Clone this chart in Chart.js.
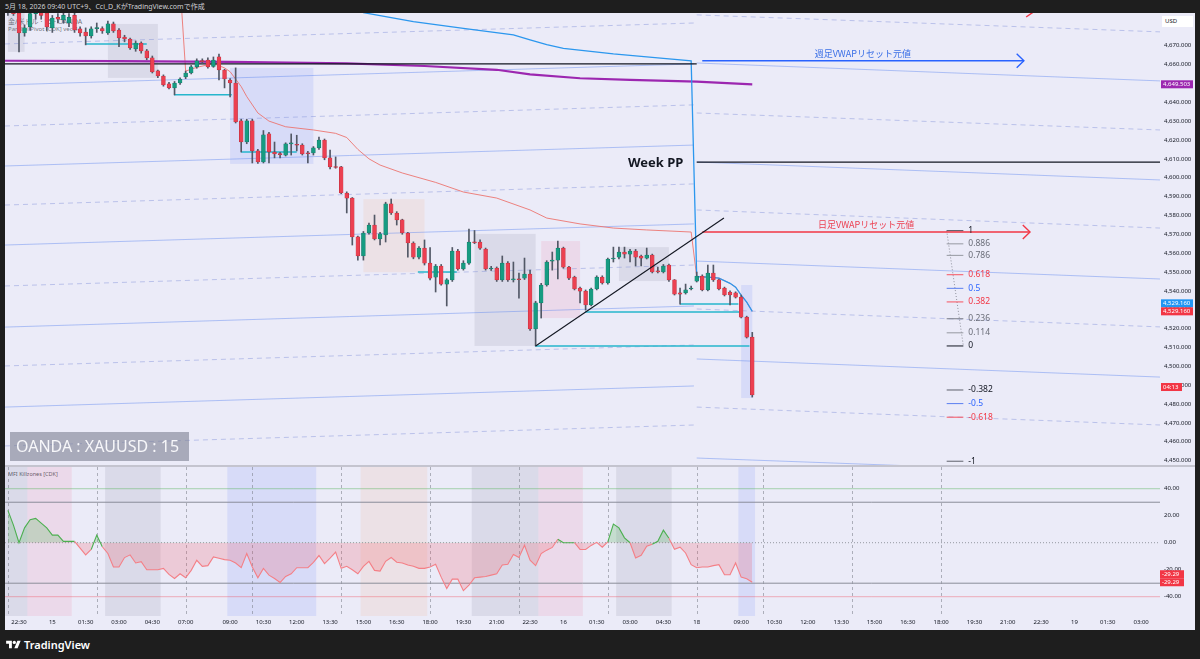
<!DOCTYPE html>
<html lang="ja">
<head>
<meta charset="utf-8">
<title>OANDA:XAUUSD 15</title>
<script src="https://cdn.jsdelivr.net/npm/chart.js@4.4.1/dist/chart.umd.min.js"></script>
<style>
  html, body { margin: 0; padding: 0; }
  body { width: 1200px; height: 659px; background: #1e1e1e; position: relative; overflow: hidden;
         font-family: "Noto Sans", "Noto Sans CJK JP", sans-serif; }
  #topbar { position: absolute; left: 5px; top: 0; height: 13px; line-height: 13px; font-size: 7px; color: #cfd0d4; white-space: nowrap; }
  .pane { position: absolute; left: 5px; width: 1190px; background: #ebebf8; }
  #mainPane { top: 13px; height: 452px; }
  #mfiPane { top: 467px; height: 163px; }
  #sep { position: absolute; left: 5px; top: 465px; width: 1190px; height: 2px; background: #c4c4cf; }
  .pane canvas { position: absolute; left: 0; top: 0; }
  .legend { position: absolute; left: 3px; color: rgba(19,23,34,0.6); white-space: nowrap; }
  #usd { position: absolute; left: 1157px; top: 3px; width: 31px; height: 11px; background: #fff; font-size: 6px;
         line-height: 11px; color: #131722; padding-left: 3px; box-sizing: border-box; }
  #symbol { position: absolute; left: 5px; top: 419px; width: 179px; height: 29px; background: rgba(128,130,148,0.62);
            color: #f7f7fa; font-size: 16px; line-height: 29px; padding-left: 6px; box-sizing: border-box; white-space: nowrap; }
  #footer { position: absolute; left: 6px; top: 637px; height: 15px; color: #fff; font-size: 11px; font-weight: 600; line-height: 15px; }
  #footer svg { position: absolute; left: 0; top: 3px; }
  #footer span { position: absolute; left: 18px; top: 0; }
</style>
</head>
<body>
<div id="topbar">5月 18, 2026 09:40 UTC+9、Cci_D_KがTradingView.comで作成</div>

<div class="pane" id="mainPane">
  <div class="legend" style="top:3px;font-size:7px;">金/米ドル · 15 · OANDA</div>
  <div class="legend" style="top:12px;font-size:6px;">Parallel Pivot [CDK] vec.4</div>
  <canvas id="mainChart" width="1190" height="452"></canvas>
  <div id="usd">USD</div>
  <div id="symbol">OANDA : XAUUSD : 15</div>
</div>
<div id="sep"></div>
<div class="pane" id="mfiPane">
  <div class="legend" style="top:3px;font-size:5.5px;color:rgba(19,23,34,0.75);">MFI Killzones [CDK]</div>
  <canvas id="mfiChart" width="1190" height="163"></canvas>
</div>
<div id="footer">
  <svg width="15" height="9" viewBox="0 0 36 22"><path fill="#fff" d="M14 20H7V9H0V2h14v18zM28 20h-8l7.5-18h8L28 20z"/><circle cx="20" cy="6" r="4" fill="#fff"/></svg>
  <span>TradingView</span>
</div>

<script>
// 15分足, bar 0 = 5/14 22:00, bar 134 = 5/18 09:30
var opens = [4689, 4691, 4687.3, 4676.7, 4680, 4687, 4689, 4687.3, 4679.4, 4685,
  4683.6, 4682, 4686, 4678.9, 4677.2, 4675.1, 4679, 4679, 4676.7, 4681.5,
  4678.3, 4674.6, 4673.5, 4668.3, 4671.4, 4667.2, 4663.5, 4656.6, 4653.9, 4649.7,
  4647.6, 4650.2, 4653.4, 4655.5, 4658.7, 4661.9, 4662.4, 4659, 4664, 4657.1,
  4651.8, 4650.2, 4630.1, 4618.9, 4630.1, 4614.2, 4608.3, 4623.2, 4613.6, 4612.6,
  4612, 4617.9, 4617.6, 4617.3, 4613.1, 4613.1, 4615.8, 4620, 4610.5, 4605.8,
  4605.7, 4591.9, 4589.2, 4568.6, 4558.5, 4570.7, 4574.9, 4567.5, 4569.6, 4586.1,
  4581.3, 4577.6, 4570.7, 4565.4, 4557.9, 4562.7, 4554.7, 4547.3, 4553.2, 4543.6,
  4545.8, 4561.1, 4551.6, 4554.7, 4565.9, 4565.9, 4562.2, 4551.6, 4552.1, 4545.8,
  4554.7, 4545.8, 4546.3, 4546.8, 4548.9, 4519.8, 4533.6, 4543.1, 4555.8, 4556.3,
  4562.7, 4552.6, 4547.3, 4541.5, 4539.9, 4532.5, 4541, 4547.3, 4544.2, 4556.9,
  4557.9, 4560.6, 4559.5, 4561.1, 4558.5, 4557.4, 4559, 4550.5, 4550, 4553.7,
  4545.8, 4538.9, 4538.9, 4541, 4545.2, 4547.9, 4540.5, 4549.5, 4545.8, 4541.5,
  4539.4, 4538.9, 4536.7, 4526.1, 4515.5];
var highs = [4694, 4695, 4689, 4681, 4690, 4692, 4692, 4689, 4686, 4687,
  4688, 4687, 4688, 4680, 4679.4, 4680, 4682, 4680, 4683, 4682.5,
  4679, 4675.5, 4674, 4672.5, 4672, 4668, 4664.5, 4657, 4654.5, 4650.5,
  4651, 4653, 4656.5, 4659.5, 4663, 4663, 4663.5, 4664, 4665.5, 4657.5,
  4652.5, 4658.2, 4631, 4631, 4631, 4615, 4625, 4624, 4618.9, 4613.5,
  4618.5, 4623.2, 4622.5, 4618, 4614, 4616.5, 4621.5, 4620.5, 4614.7, 4611,
  4606, 4592.5, 4589.5, 4569, 4571.5, 4576, 4580.2, 4571, 4587, 4588.7,
  4582, 4578, 4571, 4566, 4563.5, 4567, 4563, 4554, 4554, 4546.5,
  4563, 4562, 4556, 4572.8, 4572, 4567, 4562.7, 4553, 4552.7, 4558.5,
  4555.5, 4555.3, 4549.5, 4557.4, 4551, 4534.5, 4544, 4556, 4560.6, 4566.4,
  4563.2, 4553, 4547.8, 4542, 4540.5, 4541.5, 4548, 4548, 4557.4, 4563.2,
  4563.2, 4563.2, 4562, 4562, 4559, 4562.7, 4559.5, 4552.6, 4554, 4554.2,
  4546, 4541.5, 4543.6, 4542.6, 4550, 4548.5, 4553.7, 4553.7, 4546.3, 4542,
  4540, 4539.5, 4537.8, 4526.6, 4518];
var lows = [4686, 4686, 4666.7, 4675, 4678, 4684, 4684, 4678, 4677, 4682,
  4682, 4680, 4677, 4675, 4670.4, 4674, 4677, 4676.5, 4676, 4677,
  4669.5, 4672, 4668, 4667, 4666, 4662.5, 4655.5, 4653, 4648.5, 4647,
  4643.9, 4649.5, 4652.5, 4655, 4658, 4660.5, 4658, 4658.5, 4651.8, 4647.6,
  4642.8, 4629, 4613.6, 4618, 4607.8, 4607.5, 4607.8, 4607.8, 4610.5, 4610.5,
  4611.5, 4612, 4614.2, 4612, 4607.8, 4612, 4615, 4609.5, 4604.7, 4605,
  4591.5, 4581.3, 4564.3, 4556.3, 4556.3, 4570, 4567, 4564.3, 4565.9, 4580.5,
  4574.9, 4570, 4557.9, 4557, 4557, 4553.7, 4545.8, 4539.4, 4543, 4532,
  4545, 4551, 4551, 4554, 4565, 4562, 4551, 4550.8, 4545, 4545,
  4545, 4544.7, 4536.2, 4546, 4519, 4510.8, 4525.6, 4542.5, 4551, 4546.3,
  4552, 4546, 4540.5, 4533.6, 4529.8, 4532, 4540.5, 4543.6, 4543.6, 4555.3,
  4557, 4557.4, 4555.3, 4553.2, 4553.2, 4556.9, 4549.5, 4549.5, 4549.5, 4545,
  4537.8, 4533, 4538.3, 4540.5, 4544.7, 4540, 4540, 4545, 4540.5, 4537.3,
  4532.5, 4536.2, 4525.6, 4515, 4483.7];
var closes = [4691.5, 4687, 4676.7, 4679.4, 4687, 4689, 4686, 4679.9, 4684.6, 4684,
  4686, 4685, 4678.3, 4676.7, 4675.1, 4678.9, 4679.4, 4677.8, 4681.5, 4677.8,
  4674.1, 4673.5, 4668.8, 4671.4, 4667.2, 4663.5, 4656.1, 4653.9, 4649.2, 4647.6,
  4650.2, 4652.3, 4655.5, 4658.7, 4661.9, 4661.5, 4658.7, 4662.4, 4657.1, 4652.3,
  4650.2, 4629.5, 4618.9, 4630.1, 4614.2, 4608.3, 4622.7, 4613.6, 4612.6, 4612.2,
  4617.9, 4618.3, 4617.2, 4612.6, 4612.7, 4615.8, 4620, 4610.5, 4605.7, 4605.4,
  4591.9, 4589.2, 4568.6, 4558.5, 4570.7, 4574.9, 4567.5, 4570.2, 4586.1, 4581.3,
  4577.6, 4570.7, 4565.4, 4557.9, 4562.7, 4554.7, 4546.8, 4553.2, 4543.6, 4545.8,
  4561.1, 4551.6, 4554.7, 4565.9, 4565.5, 4562.7, 4551.6, 4552, 4545.8, 4554.7,
  4545.8, 4546.2, 4545.9, 4548.9, 4519.8, 4533.6, 4543.1, 4555.3, 4556.3, 4562.7,
  4552.6, 4546.8, 4541, 4539.9, 4532.5, 4541, 4547.3, 4544.2, 4556.9, 4557.4,
  4560.6, 4559.5, 4561.1, 4557.9, 4557.4, 4559, 4550, 4550.1, 4553.2, 4545.8,
  4538.3, 4538.3, 4540.5, 4541.3, 4547.9, 4540.5, 4549.5, 4545.8, 4541, 4537.8,
  4537.8, 4536.7, 4526.1, 4515.5, 4484.8];

var mfi = [24, 13, 0, 11, 17, 18, 14.5, 11, 5.6, 5.6,
  1, 1, 1, -4, -9, -5, 5.6, -3, -8, -18,
  -18, -11, -9, -15, -14, -20, -20, -20, -19, -23.5,
  -26.5, -23, -26, -20.5, -13, -17.5, -17, -10.5, -11.5, -12.5,
  -13, -15, -18.5, -8, -18, -26, -19, -24, -26.5, -29.5,
  -25, -23, -18.5, -18.5, -18.5, -14.5, -9.5, -15.5, -11.5, -7,
  -19, -17.5, -20, -23, -17.5, -13.8, -20.5, -21, -13.8, -11,
  -14.5, -15, -16.5, -17.5, -19, -19, -18, -16, -25.5, -34,
  -27, -27, -35.5, -31.5, -26, -25.5, -25, -24, -23, -16.5,
  -16, -8.7, -11, -1.9, -13, -17, -8, -5.5, -3.5, 2.6,
  0, 0, 0, -5, -5, -2, 0.3, -3.3, 0.6, 13.8,
  11, 3.6, 0, -11.3, -9.3, -2.6, -1.1, 1.1, 9.3, 3.3,
  -4.9, -3.3, -7.6, -16.3, -18.5, -18, -18, -17, -16.3, -23.7,
  -23.7, -15, -25.5, -26.7, -29.29];
var mfiLevels = [40, 30, 0, -30, -40];
var mfiTicks = [40, 20, 0, -20, -40];

// time axis (bar index -> label)
var tickIdx = [2, 8, 14, 20, 26, 32, 40, 46, 52, 58, 64, 70, 76, 82, 88, 94, 100, 106, 112, 118,
  124, 132, 138, 144, 150, 156, 162, 168, 174, 180, 186, 192, 198, 204];
var tickLabels = ['22:30', '15', '01:30', '03:00', '04:30', '07:00', '09:00', '10:30', '12:00', '13:30',
  '15:00', '16:30', '18:00', '19:30', '21:00', '22:30', '16', '01:30', '03:00', '04:30',
  '18', '09:00', '10:30', '12:00', '13:30', '15:00', '16:30', '18:00', '19:30', '21:00',
  '22:30', '19', '01:30', '03:00'];
var dividerIdx = [0, 16, 32, 44, 60, 76, 92, 108, 124, 136, 152, 168];
var priceTicks = [4450, 4460, 4470, 4480, 4490, 4500, 4510, 4520, 4530, 4540, 4550, 4560,
  4570, 4580, 4590, 4600, 4610, 4620, 4630, 4640, 4650, 4660, 4670];

// killzone sessions (first bar, last bar) and their box range on the price pane
var sessionFirst = [0, 4, 18, 40, 64, 84, 96, 110, 132];
var sessionLast = [3, 11, 27, 55, 75, 95, 103, 119, 134];
var sessionKind = ['gray', 'pink', 'gray', 'blue', 'orange', 'gray', 'pink', 'gray', 'blue'];
var boxTop = [4695, null, 4681.5, 4658.2, 4588.6, 4570.2, 4566.4, 4563.2, 4543.1];
var boxBottom = [4666.7, null, 4652.9, 4607.3, 4549.9, 4510.8, 4525.6, 4545.2, 4483.2];

// indicators
var maX = [-1, 20, 40, 61, 75, 88, 94, 103, 112, 124, 134];
var maY = [4662.0, 4661.8, 4661.4, 4660.6, 4659.2, 4657.2, 4654.8, 4652.7, 4651.8, 4650.9, 4649.503];
var dayX = [30, 31, 32, 34, 37, 39, 40, 42, 43, 45, 47, 50, 55, 59, 61, 63, 65, 67, 71, 77, 82, 88,
  94, 97, 103, 109, 115, 123, 124, 126, 128, 130, 131, 132, 133, 134];
var dayY = [4705, 4702, 4656.5, 4658.5, 4660.5, 4658.2, 4656.2, 4648.3, 4643, 4634.3, 4630, 4627,
  4625.3, 4623.5, 4621.3, 4615, 4610, 4606.7, 4602.5, 4597.5, 4592.4, 4589.2, 4582.9, 4578.6,
  4575.5, 4573.3, 4572.3, 4571.2, 4547.5, 4547.3, 4546.8, 4544, 4542, 4537.8, 4534, 4529.16];
var weekX = [55, 60, 64, 73, 82, 91, 94, 97, 100, 109, 118, 123, 124, 126, 128, 130, 131, 132, 133, 134];
var weekY = [4698, 4692, 4687.5, 4682.7, 4679.2, 4675.7, 4673, 4670.5, 4668.6, 4665.6, 4663.3, 4662,
  4547.5, 4547.3, 4546.8, 4544, 4542, 4537.8, 4534, 4529.16];
var weekPP = [4660.3, 4608.3];

// parallel pivot lines: [value at left end, value at right end]
var pivotDashL = [[4670.9, 4682.0], [4627.4, 4638.6], [4585.5, 4596.7], [4542.6, 4553.7], [4500.2, 4511.3], [4457.8, 4468.9]];
var pivotSolidL = [[4649.2, 4660.3], [4606.2, 4617.3], [4564.3, 4575.5], [4520.8, 4532.0], [4478.4, 4489.6]];
var pivotDashR = [[4686.3, 4677.3], [4634.3, 4625.3], [4582.9, 4573.3], [4530.4, 4520.9], [4478.4, 4468.9]];
var pivotSolidR = [[4660.8, 4651.3], [4608.3, 4598.8], [4555.8, 4546.3], [4503.9, 4494.3], [4451.4, 4442.4]];

// session range lines
var rangeStart = [13.9, 29.9, 42, 73.8, 94.9, 103.9, 121];
var rangeEnd = [25, 40.3, 52, 80.8, 133.5, 131.8, 131.5];
var rangePrice = [4670.9, 4643.9, 4613.6, 4550.0, 4510.8, 4528.8, 4533.0];

// fibonacci retracement
var fibLevels = [1, 0.886, 0.786, 0.618, 0.5, 0.382, 0.236, 0.114, 0, -0.382, -0.5, -0.618, -1];
var fibZero = 4510.8;
var fibOne = 4571.9;

var xMin = -0.52, xMax = 207.4;
var yMin = 4447.7, yMax = 4687.3;
var mfiMin = -54.3, mfiMax = 56.1;

var upColor = '#169c82', downColor = '#ec4051', upEdge = '#0d6f5c', downEdge = '#b52a39', wickColor = '#525866';
var sessionColors = { gray: 'rgba(120,122,145,0.14)', pink: 'rgba(240,110,150,0.14)', blue: 'rgba(85,115,250,0.13)', orange: 'rgba(250,170,120,0.14)' };
var fibLineColors = ['#434651', '#9598a1', '#9598a1', '#f7525f', '#5b7ff0', '#f7525f', '#787b86', '#9598a1', '#131722', '#5d606b', '#5b7ff0', '#f7525f', '#5d606b'];
var fibTextColors = ['#131722', '#6a6d78', '#6a6d78', '#f23645', '#2962ff', '#f23645', '#6a6d78', '#6a6d78', '#131722', '#131722', '#2962ff', '#f23645', '#131722'];

Chart.defaults.font.family = '"Noto Sans", "Noto Sans CJK JP", sans-serif';
Chart.defaults.color = '#131722';

function pts(xs, ys) {
  var out = [];
  for (var i = 0; i < xs.length; i++) out.push({ x: xs[i], y: ys[i] });
  return out;
}
function line(points, color, width, dash, order) {
  return { type: 'line', data: points, borderColor: color, borderWidth: width, borderDash: dash || [],
           pointRadius: 0, fill: false, tension: 0, order: order };
}
function fmtPrice(v) {
  return v.toLocaleString('en-US', { minimumFractionDigits: 3, maximumFractionDigits: 3 });
}
function drawTag(c, x, y, w, text, bg) {
  c.fillStyle = bg;
  c.fillRect(x, y - 4, w, 8);
  c.fillStyle = '#fff';
  c.font = '6px "Noto Sans", sans-serif';
  c.textAlign = 'left';
  c.textBaseline = 'middle';
  c.fillText(text, x + 2, y + 0.3);
}

// candles
var wicks = [], bodies = [], bodyFill = [], bodyEdge = [];
for (var i = 0; i < opens.length; i++) {
  wicks.push({ x: i, y: [lows[i], highs[i]] });
  bodies.push({ x: i, y: [opens[i], closes[i]] });
  var up = closes[i] >= opens[i];
  bodyFill.push(up ? upColor : downColor);
  bodyEdge.push(up ? upEdge : downEdge);
}

var mainSets = [];
var leftEnd = 123.5, rightStart = 124;
for (i = 0; i < pivotDashL.length; i++)
  mainSets.push(line([{ x: xMin, y: pivotDashL[i][0] }, { x: leftEnd, y: pivotDashL[i][1] }], 'rgba(118,135,215,0.42)', 1, [5, 4], 30));
for (i = 0; i < pivotSolidL.length; i++)
  mainSets.push(line([{ x: xMin, y: pivotSolidL[i][0] }, { x: leftEnd, y: pivotSolidL[i][1] }], 'rgba(95,135,240,0.45)', 1, [], 30));
for (i = 0; i < pivotDashR.length; i++)
  mainSets.push(line([{ x: rightStart, y: pivotDashR[i][0] }, { x: xMax, y: pivotDashR[i][1] }], 'rgba(118,135,215,0.42)', 1, [5, 4], 30));
for (i = 0; i < pivotSolidR.length; i++)
  mainSets.push(line([{ x: rightStart, y: pivotSolidR[i][0] }, { x: xMax, y: pivotSolidR[i][1] }], 'rgba(95,135,240,0.45)', 1, [], 30));
for (i = 0; i < rangeStart.length; i++)
  mainSets.push(line([{ x: rangeStart[i], y: rangePrice[i] }, { x: rangeEnd[i], y: rangePrice[i] }], '#26b6cc', 1.5, [], 25));

mainSets.push(line(pts(maX, maY), '#9c27b0', 2.2, [], 20));
mainSets.push(line(pts(dayX, dayY), 'rgba(236,110,105,0.85)', 1, [], 21));
mainSets.push(line(pts(weekX, weekY), '#2b97ee', 1.3, [], 19));
mainSets.push(line([{ x: xMin, y: weekPP[0] }, { x: 124, y: weekPP[0] }], '#131722', 1.2, [], 18));
mainSets.push(line([{ x: 124, y: weekPP[1] }, { x: xMax, y: weekPP[1] }], '#131722', 1.2, [], 18));

mainSets.push({ type: 'bar', data: wicks, backgroundColor: wickColor, barThickness: 1, grouped: false, order: 11 });
mainSets.push({ type: 'bar', data: bodies, backgroundColor: bodyFill, borderColor: bodyEdge, borderWidth: 0.5,
                borderSkipped: false, barThickness: 3.8, minBarLength: 1, grouped: false, order: 10 });

// drawings
mainSets.push(line([{ x: 95, y: lows[95] }, { x: 128.9, y: 4578.6 }], '#131722', 1.1, [], 2));
var weekFrom = weekY[11], dayFrom = dayY[27];
mainSets.push(line([{ x: 125, y: weekFrom }, { x: 182.9, y: weekFrom }], '#2962ff', 1.4, [], 2));
mainSets.push(line([{ x: 181.6, y: weekFrom + 3.7 }, { x: 182.9, y: weekFrom }, { x: 181.6, y: weekFrom - 3.7 }], '#2962ff', 1.4, [], 2));
mainSets.push(line([{ x: 125, y: dayFrom }, { x: 184, y: dayFrom }], '#f23645', 1.4, [], 2));
mainSets.push(line([{ x: 182.7, y: dayFrom + 3.7 }, { x: 184, y: dayFrom }, { x: 182.7, y: dayFrom - 3.7 }], '#f23645', 1.4, [], 2));
mainSets.push(line([{ x: 183.3, y: 4685.2 }, { x: 184.7, y: 4688 }], '#f23645', 1.4, [], 2));
for (i = 0; i < fibLevels.length; i++) {
  var fp = fibZero + fibLevels[i] * (fibOne - fibZero);
  mainSets.push(line([{ x: 169, y: fp }, { x: 172, y: fp }], fibLineColors[i], 1, [], 3));
}
mainSets.push(line([{ x: 169, y: fibOne }, { x: 172, y: fibZero }], 'rgba(120,123,134,0.8)', 1, [1, 2], 3));

var mainExtras = {
  id: 'mainExtras',
  beforeDatasetsDraw: function(chart) {
    var c = chart.ctx, a = chart.chartArea, xs = chart.scales.x, ys = chart.scales.y;
    c.save();
    c.beginPath();
    c.rect(a.left, a.top, a.right - a.left, a.bottom - a.top);
    c.clip();
    for (var k = 0; k < sessionFirst.length; k++) {
      if (boxTop[k] === null) continue;
      var x0 = xs.getPixelForValue(sessionFirst[k]), x1 = xs.getPixelForValue(sessionLast[k]);
      var y0 = ys.getPixelForValue(boxTop[k]), y1 = ys.getPixelForValue(boxBottom[k]);
      c.fillStyle = sessionColors[sessionKind[k]];
      c.fillRect(x0, y0, x1 - x0, y1 - y0);
    }
    c.restore();
  },
  afterDatasetsDraw: function(chart) {
    var c = chart.ctx, xs = chart.scales.x, ys = chart.scales.y;
    c.save();
    c.textBaseline = 'middle';
    c.font = 'bold 13px "Noto Sans", sans-serif';
    c.fillStyle = '#131722';
    c.textAlign = 'right';
    c.fillText('Week PP', xs.getPixelForValue(121.6), ys.getPixelForValue(weekPP[1]) + 1);

    c.font = '9px "Noto Sans CJK JP", "Noto Sans", sans-serif';
    c.textAlign = 'center';
    c.fillStyle = '#3a6fe6';
    c.fillText('週足VWAPリセット元値', xs.getPixelForValue(153.9), ys.getPixelForValue(weekFrom + 3.8));
    c.fillStyle = '#ec3f50';
    c.fillText('日足VWAPリセット元値', xs.getPixelForValue(154.5), ys.getPixelForValue(dayFrom + 4.2));

    c.font = '8.5px "Noto Sans", sans-serif';
    c.textAlign = 'left';
    for (var k = 0; k < fibLevels.length; k++) {
      var fp = fibZero + fibLevels[k] * (fibOne - fibZero);
      c.fillStyle = fibTextColors[k];
      c.fillText(String(fibLevels[k]), xs.getPixelForValue(172.9), ys.getPixelForValue(fp));
    }
    c.restore();
  },
  afterDraw: function(chart) {
    var c = chart.ctx, a = chart.chartArea, ys = chart.scales.y;
    var tx = a.right + 1;
    c.save();
    var last = closes.length - 1;
    drawTag(c, tx, ys.getPixelForValue(maY[maY.length - 1]), 32, fmtPrice(maY[maY.length - 1]), '#9c27b0');
    drawTag(c, tx, ys.getPixelForValue(weekY[weekY.length - 1]) - 8, 32, fmtPrice(weekY[weekY.length - 1]), '#2196f3');
    drawTag(c, tx, ys.getPixelForValue(dayY[dayY.length - 1]), 32, fmtPrice(dayY[dayY.length - 1]), '#f23645');
    drawTag(c, tx, ys.getPixelForValue(closes[last]) - 8, 21, '04:13', '#f23645');
    c.restore();
  }
};

new Chart(document.getElementById('mainChart'), {
  type: 'bar',
  data: { datasets: mainSets },
  options: {
    responsive: false,
    animation: false,
    events: [],
    layout: { padding: 0 },
    plugins: { legend: { display: false }, tooltip: { enabled: false } },
    scales: {
      x: { type: 'linear', min: xMin, max: xMax, display: false, offset: false },
      y: {
        type: 'linear', position: 'right', min: yMin, max: yMax, beginAtZero: false,
        grid: { display: false, drawTicks: false }, border: { display: false },
        ticks: { font: { size: 6 }, color: '#131722', padding: 4, callback: function(v) { return fmtPrice(v); } },
        afterBuildTicks: function(s) { s.ticks = priceTicks.map(function(v) { return { value: v }; }); },
        afterFit: function(s) { s.width = 35; s.paddingTop = 0; s.paddingBottom = 0; }
      }
    }
  },
  plugins: [mainExtras]
});

// MFI pane
var mfiSets = [];
var mfiPts = [];
for (i = 0; i < mfi.length; i++) mfiPts.push({ x: i, y: mfi[i] });
mfiSets.push({
  type: 'line', data: mfiPts, borderWidth: 1.1, pointRadius: 0, tension: 0, order: 1,
  borderColor: '#f47f86',
  segment: { borderColor: function(ctx) { return (ctx.p0.parsed.y + ctx.p1.parsed.y) / 2 >= 0 ? '#4caf50' : '#f47f86'; } },
  fill: { target: { value: 0 }, above: 'rgba(76,175,80,0.24)', below: 'rgba(242,54,69,0.18)' }
});
var levelColors = ['rgba(76,175,80,0.45)', '#8a8d99', '#9598a1', '#8a8d99', 'rgba(242,54,69,0.35)'];
for (i = 0; i < mfiLevels.length; i++)
  mfiSets.push(line([{ x: xMin, y: mfiLevels[i] }, { x: xMax, y: mfiLevels[i] }], levelColors[i], 1, mfiLevels[i] === 0 ? [1, 2] : [], 5));

var mfiExtras = {
  id: 'mfiExtras',
  beforeDatasetsDraw: function(chart) {
    var c = chart.ctx, a = chart.chartArea, xs = chart.scales.x;
    c.save();
    for (var k = 0; k < sessionFirst.length; k++) {
      var x0 = xs.getPixelForValue(sessionFirst[k] - 0.5), x1 = xs.getPixelForValue(sessionLast[k] + 0.5);
      c.fillStyle = sessionColors[sessionKind[k]];
      c.fillRect(x0, a.top, x1 - x0, a.bottom - a.top);
    }
    c.strokeStyle = 'rgba(120,123,134,0.55)';
    c.lineWidth = 1;
    c.setLineDash([3, 3]);
    for (k = 0; k < dividerIdx.length; k++) {
      var x = Math.round(xs.getPixelForValue(dividerIdx[k])) + 0.5;
      c.beginPath();
      c.moveTo(x, a.top);
      c.lineTo(x, a.bottom);
      c.stroke();
    }
    c.restore();
  },
  afterDraw: function(chart) {
    var c = chart.ctx, a = chart.chartArea, ys = chart.scales.y;
    var v = mfi[mfi.length - 1];
    c.save();
    drawTag(c, a.right, ys.getPixelForValue(v) - 8, 24, v.toFixed(2), '#f23645');
    drawTag(c, a.right, ys.getPixelForValue(v), 24, v.toFixed(2), '#f23645');
    c.restore();
  }
};

new Chart(document.getElementById('mfiChart'), {
  type: 'line',
  data: { datasets: mfiSets },
  options: {
    responsive: false,
    animation: false,
    events: [],
    layout: { padding: 0 },
    plugins: { legend: { display: false }, tooltip: { enabled: false } },
    scales: {
      x: {
        type: 'linear', min: xMin, max: xMax, offset: false,
        grid: { display: false, drawTicks: false }, border: { display: false },
        ticks: {
          font: { size: 6 }, color: '#131722', padding: 3, maxRotation: 0, autoSkip: false,
          callback: function(v) { var k = tickIdx.indexOf(v); return k >= 0 ? tickLabels[k] : ''; }
        },
        afterBuildTicks: function(s) { s.ticks = tickIdx.map(function(v) { return { value: v }; }); },
        afterFit: function(s) { s.height = 14; s.paddingLeft = 0; s.paddingRight = 0; }
      },
      y: {
        type: 'linear', position: 'right', min: mfiMin, max: mfiMax,
        grid: { display: false, drawTicks: false }, border: { display: false },
        ticks: { font: { size: 6 }, color: '#131722', padding: 4, callback: function(v) { return v.toFixed(2); } },
        afterBuildTicks: function(s) { s.ticks = mfiTicks.map(function(v) { return { value: v }; }); },
        afterFit: function(s) { s.width = 35; s.paddingTop = 0; s.paddingBottom = 0; }
      }
    }
  },
  plugins: [mfiExtras]
});
</script>
</body>
</html>
